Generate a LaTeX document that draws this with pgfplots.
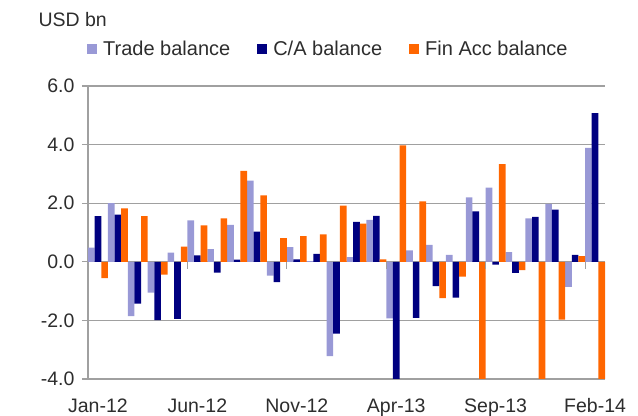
\documentclass[border=0pt]{standalone}
\usepackage{fontspec}
\setmainfont{Liberation Sans}
\usepackage{pgfplots}
\usepackage{pgfplotstable}
\pgfplotsset{compat=1.18}

\definecolor{tradec}{RGB}{153,153,214}
\definecolor{cac}{RGB}{0,0,128}
\definecolor{finc}{RGB}{255,102,0}
\definecolor{gridc}{RGB}{160,160,160}
\definecolor{txt}{RGB}{45,45,45}

% month index, trade balance, C/A balance, financial account balance (USD bn)
\pgfplotstableread{
x  trade  ca     fin
0   0.48   1.56  -0.56
1   2.00   1.61   1.82
2  -1.85  -1.43   1.56
3  -1.05  -1.99  -0.44
4   0.31  -1.95   0.52
5   1.41   0.22   1.24
6   0.43  -0.37   1.48
7   1.26   0.07   3.10
8   2.77   1.03   2.27
9  -0.47  -0.69   0.81
10  0.50   0.08   0.88
11  0.02   0.27   0.94
12 -3.22  -2.45   1.92
13  0.16   1.36   1.30
14  1.43   1.57   0.08
15 -1.93  -4.30   3.97
16  0.39  -1.91   2.06
17  0.58  -0.83  -1.24
18  0.24  -1.22  -0.51
19  2.20   1.72  -5.50
20  2.53  -0.10   3.33
21  0.33  -0.38  -0.28
22  1.48   1.53  -5.50
23  1.98   1.78  -1.97
24 -0.86   0.24   0.19
25  3.89   5.07  -5.50
}\datatable

\begin{document}
\begin{tikzpicture}[font=\fontsize{19.5bp}{22bp}\selectfont, text=txt]
\path[use as bounding box] (0,0) rectangle (638bp,416bp);
\node[anchor=west] at (35bp,396bp) {USD bn};
\begin{axis}[
  at={(88bp,37bp)}, anchor=south west,
  scale only axis,
  width=517bp, height=293bp,
  ybar=0pt, bar width=6.63bp,
  xmin=-0.5, xmax=25.5,
  ymin=-4, ymax=6,
  ytick={-4,-2,0,2,4,6},
  xtick={0,5,10,15,20,25},
  xticklabels={Jan-12,Jun-12,Nov-12,Apr-13,Sep-13,Feb-14},
  axis x line*=bottom, axis y line*=left,
  axis line style={gridc, line width=1.2bp, -},
  ymajorgrids, grid style={gridc, line width=1.2bp},
  xtick style={draw=none},
  ytick style={gridc, line width=1.2bp},
  tick align=outside, major tick length=6bp,
  /pgf/number format/assume math mode=true,
  yticklabel style={/pgf/number format/fixed, /pgf/number format/fixed zerofill,
    /pgf/number format/precision=1, text=txt, xshift=-4bp},
  xticklabel style={text=txt, yshift=-10bp},
  legend style={at={(0,1)}, anchor=west, xshift=-1bp, yshift=37bp,
    draw=none, fill=none, inner sep=0pt, text=txt,
    font=\fontsize{20bp}{23bp}\selectfont,
    /tikz/every odd column/.append style={column sep=4bp},
    /tikz/every even column/.append style={column sep=25bp}},
  legend columns=3,
  legend image code/.code={\fill[#1] (0bp,-5bp) rectangle (10bp,5bp);},
]
\addplot[fill=tradec, draw=none] table[x=x, y=trade] {\datatable};
\addplot[fill=cac, draw=none] table[x=x, y=ca] {\datatable};
\addplot[fill=finc, draw=none] table[x=x, y=fin] {\datatable};
\legend{Trade balance, C/A balance, Fin Acc balance}
% small tick marks on the zero line at every fifth month
\pgfplotsinvokeforeach{4.5,9.5,14.5,19.5,24.5}{
  \draw[gridc, line width=1.2bp] (axis cs:#1,0) -- ([yshift=-7bp]axis cs:#1,0);
}
\end{axis}
\end{tikzpicture}
\end{document}
